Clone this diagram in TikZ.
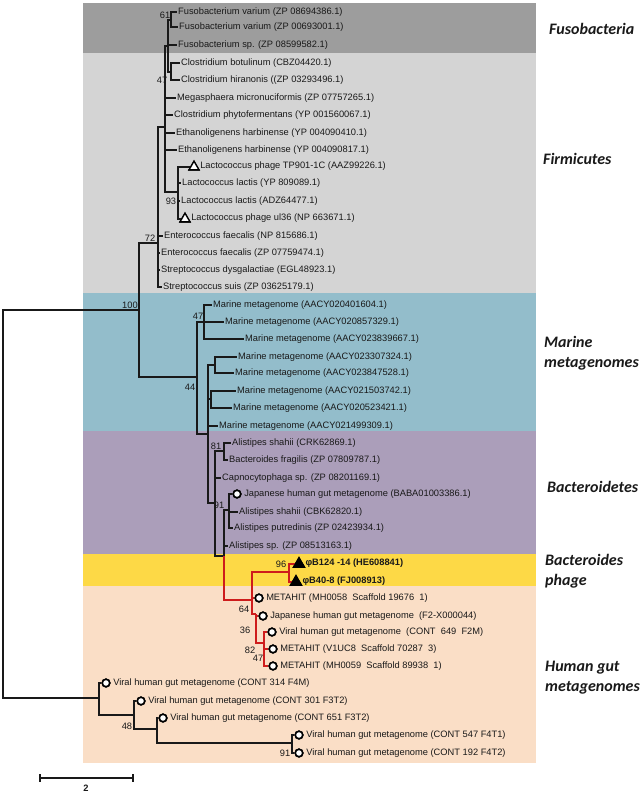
\documentclass[tikz,border=0pt]{standalone}
\usepackage{fontspec}
\setmainfont{Liberation Sans}
\newfontfamily\grpfont{Carlito}
\usetikzlibrary{shapes.geometric}
\definecolor{fusogray}{RGB}{157,157,157}
\definecolor{firmgray}{RGB}{212,212,212}
\definecolor{marineblue}{RGB}{147,189,203}
\definecolor{bactpurple}{RGB}{171,158,186}
\definecolor{phageyellow}{RGB}{253,217,70}
\definecolor{gutpeach}{RGB}{250,222,198}
\definecolor{treered}{RGB}{206,28,28}
\newcommand{\leaffont}{\fontsize{9.3}{11}\selectfont}
\tikzset{
  branch/.style={line width=1.5pt, draw=black!90},
  redbranch/.style={line width=2pt, draw=treered},
  leaf/.style={anchor=west, inner sep=1pt, font=\leaffont, text=black!90},
  boot/.style={inner sep=0pt, font=\leaffont, text=black!90},
  ringmark/.style={circle, draw=black, fill=white, line width=1.6pt, minimum size=7.5pt, inner sep=0pt},
  trimark/.style={regular polygon, regular polygon sides=3, draw=black, fill=white, line width=1.3pt, minimum size=11.5pt, inner sep=0pt},
  trifull/.style={trimark, fill=black, minimum size=12.5pt},
  grp/.style={anchor=west, font=\grpfont\bfseries\itshape\fontsize{16}{20}\selectfont, align=left, text=black!90, inner sep=0pt},
}
\begin{document}
\begin{tikzpicture}[x=1pt,y=-1pt]
	\useasboundingbox (0,0) rectangle (643,793);
	% clade bands
	\fill[fusogray] (83,3) rectangle (536,53);
	\fill[firmgray] (83,53) rectangle (536,293);
	\fill[marineblue] (83,293) rectangle (536,431);
	\fill[bactpurple] (83,431) rectangle (536,554);
	\fill[phageyellow] (83,554) rectangle (536,586);
	\fill[gutpeach] (83,586) rectangle (536,763);
	% group names
	\node[grp] (gfuso) at (549,29) {Fusobacteria};
	\node[grp] (gfirm) at (543,159) {Firmicutes};
	\node[grp] (gmar) at (544,353) {Marine\\metagenomes};
	\node[grp] (gbact) at (547,487) {Bacteroidetes};
	\node[grp] (gphage) at (545,571) {Bacteroides\\phage};
	\node[grp] (ggut) at (545,678) {Human gut\\metagenomes};
	% internal nodes
	\coordinate (root) at (3,504);
	\coordinate (n100) at (139,310);
	\coordinate (n72) at (158,243);
	\coordinate (nE) at (165,127);
	\coordinate (nF) at (168,46);
	\coordinate (n61) at (171,20);
	\coordinate (nCl) at (171,72);
	\coordinate (nL) at (178,192);
	\coordinate (n44) at (197,377);
	\coordinate (n47) at (204,322);
	\coordinate (nM) at (208,434);
	\coordinate (nA) at (215,365);
	\coordinate (nB2) at (211,399);
	\coordinate (nB) at (215,503);
	\coordinate (n81) at (224,451);
	\coordinate (nC) at (224,556);
	\coordinate (n91) at (229,510);
	\coordinate (nR) at (252,600);
	\coordinate (n96) at (289,572);
	\coordinate (n64) at (256,614);
	\coordinate (n36) at (264,643);
	\coordinate (nH) at (99,698);
	\coordinate (nH2) at (134,715);
	\coordinate (nH3) at (157,729);
	\coordinate (n91b) at (292,743);
	% Fusobacteria
	\node[leaf] (f1) at (177,12) {Fusobacterium varium (ZP 08694386.1)};
	\node[leaf] (f2) at (178,27) {Fusobacterium varium (ZP 00693001.1)};
	\node[leaf] (f3) at (177,45) {Fusobacterium sp. (ZP 08599582.1)};
	% Firmicutes
	\node[leaf] (c1) at (180,63) {Clostridium botulinum (CBZ04420.1)};
	\node[leaf] (c2) at (180,80) {Clostridium hiranonis ((ZP 03293496.1)};
	\node[leaf] (m1) at (176,98) {Megasphaera micronuciformis (ZP 07757265.1)};
	\node[leaf] (m2) at (173,115) {Clostridium phytofermentans (YP 001560067.1)};
	\node[leaf] (m3) at (175,133) {Ethanoligenens harbinense (YP 004090410.1)};
	\node[leaf] (m4) at (177,150) {Ethanoligenens harbinense (YP 004090817.1)};
	\node[trimark] (lp1) at (194,167) {};
	\node[leaf] (lp1t) at ([xshift=1pt]lp1.east|-0,166) {Lactococcus phage TP901-1C (AAZ99226.1)};
	\node[leaf] (l1) at (181,183) {Lactococcus lactis (YP 809089.1)};
	\node[leaf] (l2) at (180,201) {Lactococcus lactis (ADZ64477.1)};
	\node[trimark] (lp2) at (185,219) {};
	\node[leaf] (lp2t) at ([xshift=1pt]lp2.east|-0,218) {Lactococcus phage ul36 (NP 663671.1)};
	\node[leaf] (e1) at (163,236) {Enterococcus faecalis (NP 815686.1)};
	\node[leaf] (e2) at (160,253) {Enterococcus faecalis (ZP 07759474.1)};
	\node[leaf] (s1) at (160,270) {Streptococcus dysgalactiae (EGL48923.1)};
	\node[leaf] (s2) at (162,287) {Streptococcus suis (ZP 03625179.1)};
	% Marine metagenomes
	\node[leaf] (mm1) at (212,305) {Marine metagenome (AACY020401604.1)};
	\node[leaf] (mm2) at (224,322) {Marine metagenome (AACY020857329.1)};
	\node[leaf] (mm3) at (244,339) {Marine metagenome (AACY023839667.1)};
	\node[leaf] (mm4) at (237,357) {Marine metagenome (AACY023307324.1)};
	\node[leaf] (mm5) at (234,373) {Marine metagenome (AACY023847528.1)};
	\node[leaf] (mm6) at (236,391) {Marine metagenome (AACY021503742.1)};
	\node[leaf] (mm7) at (232,408) {Marine metagenome (AACY020523421.1)};
	\node[leaf] (mm8) at (218,426) {Marine metagenome (AACY021499309.1)};
	% Bacteroidetes
	\node[leaf] (b1) at (231,443) {Alistipes shahii (CRK62869.1)};
	\node[leaf] (b2) at (228,460) {Bacteroides fragilis (ZP 07809787.1)};
	\node[leaf] (b3) at (221,478) {Capnocytophaga sp. (ZP 08201169.1)};
	\node[ringmark] (b4) at (237,494) {};
	\node[leaf] (b4t) at ([xshift=1.5pt]b4.east) {Japanese human gut metagenome (BABA01003386.1)};
	\node[leaf] (b5) at (238,512) {Alistipes shahii (CBK62820.1)};
	\node[leaf] (b6) at (233,528) {Alistipes putredinis (ZP 02423934.1)};
	\node[leaf] (b7) at (228,546) {Alistipes sp. (ZP 08513163.1)};
	% Bacteroides phage
	\node[trifull] (p1) at (299,564) {};
	\node[leaf] (p1t) at ([xshift=1pt]p1.east|-0,563) {\bfseries φB124 -14 (HE608841)};
	\node[trifull] (p2) at (296,582) {};
	\node[leaf] (p2t) at ([xshift=1pt]p2.east|-0,581) {\bfseries φB40-8 (FJ008913)};
	% Human gut metagenomes
	\node[ringmark] (h1) at (259,598) {};
	\node[leaf] (h1t) at ([xshift=1.5pt]h1.east) {METAHIT (MH0058\ \ Scaffold 19676\ \ 1)};
	\node[ringmark] (h2) at (263,616) {};
	\node[leaf] (h2t) at ([xshift=1.5pt]h2.east) {Japanese human gut metagenome\ \ (F2-X000044)};
	\node[ringmark] (h3) at (272,632) {};
	\node[leaf] (h3t) at ([xshift=1.5pt]h3.east) {Viral human gut metagenome\ \ (CONT\ \ 649\ \ F2M)};
	\node[ringmark] (h4) at (273,649) {};
	\node[leaf] (h4t) at ([xshift=1.5pt]h4.east) {METAHIT (V1UC8\ \ Scaffold 70287\ \ 3)};
	\node[ringmark] (h5) at (273,666) {};
	\node[leaf] (h5t) at ([xshift=1.5pt]h5.east) {METAHIT (MH0059\ \ Scaffold 89938\ \ 1)};
	\node[ringmark] (g1) at (106,683) {};
	\node[leaf] (g1t) at ([xshift=1.5pt]g1.east) {Viral human gut metagenome (CONT 314 F4M)};
	\node[ringmark] (g2) at (141,701) {};
	\node[leaf] (g2t) at ([xshift=1.5pt]g2.east) {Viral human gut metagenome (CONT 301 F3T2)};
	\node[ringmark] (g3) at (163,718) {};
	\node[leaf] (g3t) at ([xshift=1.5pt]g3.east) {Viral human gut metagenome (CONT 651 F3T2)};
	\node[ringmark] (g4) at (299,735) {};
	\node[leaf] (g4t) at ([xshift=1.5pt]g4.east) {Viral human gut metagenome (CONT 547 F4T1)};
	\node[ringmark] (g5) at (299,753) {};
	\node[leaf] (g5t) at ([xshift=1.5pt]g5.east) {Viral human gut metagenome (CONT 192 F4T2)};
	% branches
	\draw[branch] (root) |- (n100);
	\draw[branch] (root) |- (nH);
	\draw[branch] (n100) |- (n72);
	\draw[branch] (n100) |- (n44);
	\draw[branch] (n72) |- (nE);
	\foreach \c in {e1,e2,s1,s2} \draw[branch] (n72) |- (\c.west);
	\draw[branch] (nE) |- (nF);
	\draw[branch] (nE) |- (nL);
	\foreach \c in {m1,m2,m3,m4} \draw[branch] (nE) |- (\c.west);
	\draw[branch] (nF) |- (n61);
	\draw[branch] (nF) |- (nCl);
	\draw[branch] (nF) |- (f3.west);
	\foreach \c in {f1,f2} \draw[branch] (n61) |- (\c.west);
	\foreach \c in {c1,c2} \draw[branch] (nCl) |- (\c.west);
	\foreach \c in {lp1,l1,l2,lp2} \draw[branch] (nL) |- (\c.west);
	\draw[branch] (n44) |- (n47);
	\draw[branch] (n44) |- (nM);
	\foreach \c in {mm1,mm2,mm3} \draw[branch] (n47) |- (\c.west);
	\draw[branch] (nM) |- (nA);
	\draw[branch] (nM) |- (nB2);
	\draw[branch] (nM) |- (nB);
	\draw[branch] (nM) |- (mm8.west);
	\foreach \c in {mm4,mm5} \draw[branch] (nA) |- (\c.west);
	\foreach \c in {mm6,mm7} \draw[branch] (nB2) |- (\c.west);
	\draw[branch] (nB) |- (n81);
	\draw[branch] (nB) |- (nC);
	\draw[branch] (nB) |- (b3.west);
	\foreach \c in {b1,b2} \draw[branch] (n81) |- (\c.west);
	\draw[branch] (nC) |- (n91);
	\draw[branch] (nC) |- (b7.west);
	\foreach \c in {b4,b5,b6} \draw[branch] (n91) |- (\c.west);
	\draw[redbranch] (nC) |- (nR);
	\draw[redbranch] (nR) |- (n96);
	\draw[redbranch] (nR) |- (n64);
	\draw[redbranch] (nR) |- (h1.west);
	\foreach \c in {p1,p2} \draw[redbranch] (n96) |- (\c.west);
	\draw[redbranch] (n64) |- (n36);
	\draw[redbranch] (n64) |- (h2.west);
	\foreach \c in {h3,h4,h5} \draw[redbranch] (n36) |- (\c.west);
	\draw[branch] (nH) |- (nH2);
	\draw[branch] (nH) |- (g1.west);
	\draw[branch] (nH2) |- (nH3);
	\draw[branch] (nH2) |- (g2.west);
	\draw[branch] (nH3) |- (n91b);
	\draw[branch] (nH3) |- (g3.west);
	\foreach \c in {g4,g5} \draw[branch] (n91b) |- (\c.west);
	% markers on top of the branches
	\foreach \c in {lp1,lp2} \node[trimark] at (\c) {};
	\foreach \c in {p1,p2} \node[trifull] at (\c) {};
	\foreach \c in {b4,h1,h2,h3,h4,h5,g1,g2,g3,g4,g5} \node[ringmark] at (\c) {};
	% bootstrap values
	\node[boot] (bs61) at (165,15) {61};
	\node[boot] (bs47a) at (162,80) {47};
	\node[boot] (bs93) at (171,201) {93};
	\node[boot] (bs72) at (150,238) {72};
	\node[boot] (bs100) at (130,305) {100};
	\node[boot] (bs47b) at (198,316) {47};
	\node[boot] (bs44) at (190,387) {44};
	\node[boot] (bs81) at (216,446) {81};
	\node[boot] (bs91a) at (219,505) {91};
	\node[boot] (bs96) at (281,564) {96};
	\node[boot] (bs64) at (244,609) {64};
	\node[boot] (bs36) at (245,630) {36};
	\node[boot] (bs82) at (250,650) {82};
	\node[boot] (bs47c) at (258,658) {47};
	\node[boot] (bs48) at (127,726) {48};
	\node[boot] (bs91b) at (285,753) {91};
	% scale bar
	\draw[branch] (40,778) -- (133,778);
	\draw[branch] (40,774) -- (40,782);
	\draw[branch] (133,774) -- (133,782);
	\node[boot, font=\leaffont\bfseries] (sbar) at (86,788) {2};
\end{tikzpicture}
\end{document}
